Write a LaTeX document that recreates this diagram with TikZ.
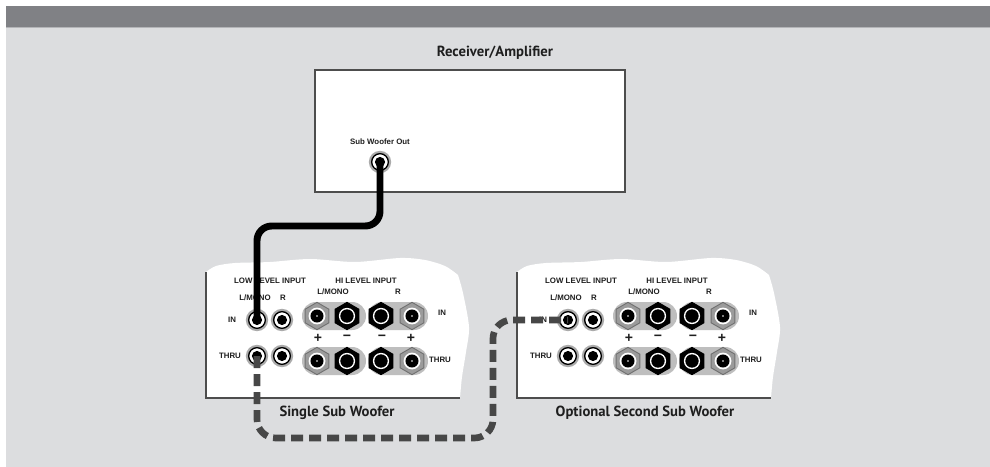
\documentclass[tikz,border=0pt]{standalone}
\usepackage{fontspec}
\setmainfont{Liberation Sans}
\newfontfamily\ptsans{PT Sans}
\usetikzlibrary{shapes.geometric}
\definecolor{bggray}{HTML}{DCDDDF}
\definecolor{bargray}{HTML}{808185}
\definecolor{barline}{HTML}{B4B5B8}
\definecolor{edgegray}{HTML}{4D4D4D}
\definecolor{halo}{HTML}{ABABAB}
\definecolor{pillgray}{HTML}{BEBEBE}
\definecolor{hexgray}{HTML}{9B9B9B}
\definecolor{hexedge}{HTML}{707070}
\definecolor{dashcol}{HTML}{474747}
\definecolor{txt}{HTML}{1E1E1E}
\tikzset{
 lab/.style={font=\bfseries\fontsize{5.9}{6}\selectfont, inner sep=0pt, text=txt},
 sgn/.style={font=\bfseries\fontsize{10.5}{11}\selectfont, inner sep=0pt, text=txt},
 ttl/.style={font=\ptsans\bfseries\fontsize{11}{13}\selectfont, inner sep=0pt, text=txt},
 rcaring/.style={circle, minimum size=12.5pt, inner sep=0pt, draw=black, line width=1pt, fill=white, preaction={draw=halo, line width=4.2pt}},
 hexg/.style={regular polygon, regular polygon sides=6, regular polygon rotate=30, minimum size=20.5pt, inner sep=0pt, fill=hexgray, draw=hexedge, line width=0.7pt},
 hexb/.style={regular polygon, regular polygon sides=6, regular polygon rotate=30, minimum size=20.5pt, inner sep=0pt, fill=black, draw=black, line width=0.7pt},
 pill/.style={fill=pillgray, rounded corners=10.4pt},
 cable/.style={line width=5.2pt, black, rounded corners=11pt},
 dcable/.style={line width=5pt, dashcol, dash pattern=on 9pt off 4.5pt, rounded corners=14pt},
 paneledge/.style={draw=edgegray, line width=1.1pt},
 boxedge/.style={draw=edgegray, line width=1.1pt, fill=white},
}
\newcommand\rcajack[2]{\node[rcaring] (#1) at (#2) {}; \fill[black] (#1.center) circle (3.8pt);}
\newcommand\gpost[2]{\node[hexg] (#1) at (#2) {}; \fill[white] (#1.center) circle (6.3pt); \fill[black] (#1.center) circle (4.9pt); \fill[white] (#1.center) circle (0.7pt);}
\newcommand\bpost[2]{\node[hexb] (#1) at (#2) {}; \fill[white] (#1.center) circle (6.1pt); \fill[black] (#1.center) circle (5pt);}
\newcommand\subpanel[3]{%
 \fill[white] plot[smooth] coordinates {(206,272) (216,266) (235,263) (270,262) (310,259) (355,262) (400,258) (425,260) (445,266) (458,275)}
   -- plot[smooth] coordinates {(458,275) (463,293) (469,327) (466,352) (462,377) (460,398)} -- (206,398) -- cycle;
 \draw[paneledge] (206,272) -- (206,398) -- (460,398);
 \node[lab] (#1low) at (270,281) {LOW LEVEL INPUT};
 \node[lab] (#1hi) at (366,281) {HI LEVEL INPUT};
 \node[lab] (#1lm) at (255,298) {L/MONO};
 \node[lab] (#1lr) at (283,298) {R};
 \node[lab] (#1hm) at (333,292) {L/MONO};
 \node[lab] (#1hr) at (398,292) {R};
 \node[lab] (#1inlab) at (232,320) {IN};
 \node[lab] (#1thlab) at (230,356) {THRU};
 \node[lab] (#1inlabr) at (442,313) {IN};
 \node[lab] (#1thlabr) at (440,360) {THRU};
 \node[sgn] (#1pa) at (318,338) {+};
 \node[sgn] (#1ma) at (347,338) {\char"2212};
 \node[sgn] (#1mb) at (382,338) {\char"2212};
 \node[sgn] (#1pb) at (411,338) {+};
 \node[ttl] (#1title) at (#3,413) {#2};
 \rcajack{#1inL}{257,320}
 \rcajack{#1inR}{282,320}
 \rcajack{#1thL}{257,356}
 \rcajack{#1thR}{282,356}
 \fill[pill] (302,302) rectangle (366,330);
 \fill[pill] (368,302) rectangle (428,330);
 \fill[pill] (302,347) rectangle (366,375);
 \fill[pill] (368,347) rectangle (428,375);
 \gpost{#1ia}{317,316}
 \bpost{#1ib}{347,316}
 \bpost{#1ic}{381,316}
 \gpost{#1id}{412,316}
 \gpost{#1ta}{317,361}
 \bpost{#1tb}{347,361}
 \bpost{#1tc}{381,361}
 \gpost{#1td}{412,361}
}
\begin{document}
\begin{tikzpicture}[x=0.75pt,y=-0.75pt]
\useasboundingbox (0,0) rectangle (990,467);
\fill[white] (0,0) rectangle (990,467);
\fill[bggray] (6,6) rectangle (990,467);
\fill[bargray] (6,6) rectangle (990,27);
\draw[barline, line width=0.8pt] (6,27.6) -- (990,27.6);
% receiver
\draw[boxedge] (315,70) rectangle (625,192);
\node[ttl] (rectitle) at (495,53) {Receiver/Amplifier};
\node[lab] (swolab) at (380,142) {Sub Woofer Out};
\rcajack{swo}{380,162}
% panels
\subpanel{a}{Single Sub Woofer}{337}
\begin{scope}[shift={(311,0)}]
\subpanel{b}{Optional Second Sub Woofer}{334}
\end{scope}
% cables
\coordinate (cbend) at (320,226);
\draw[cable] (swo.center) |- (cbend) -| (ainL.center);
\coordinate (dlow) at (375,438);
\coordinate (dup) at (493,380);
\draw[dcable] (athL.center) |- (dlow) -| (dup) |- (binL.center);
\end{tikzpicture}
\end{document}
